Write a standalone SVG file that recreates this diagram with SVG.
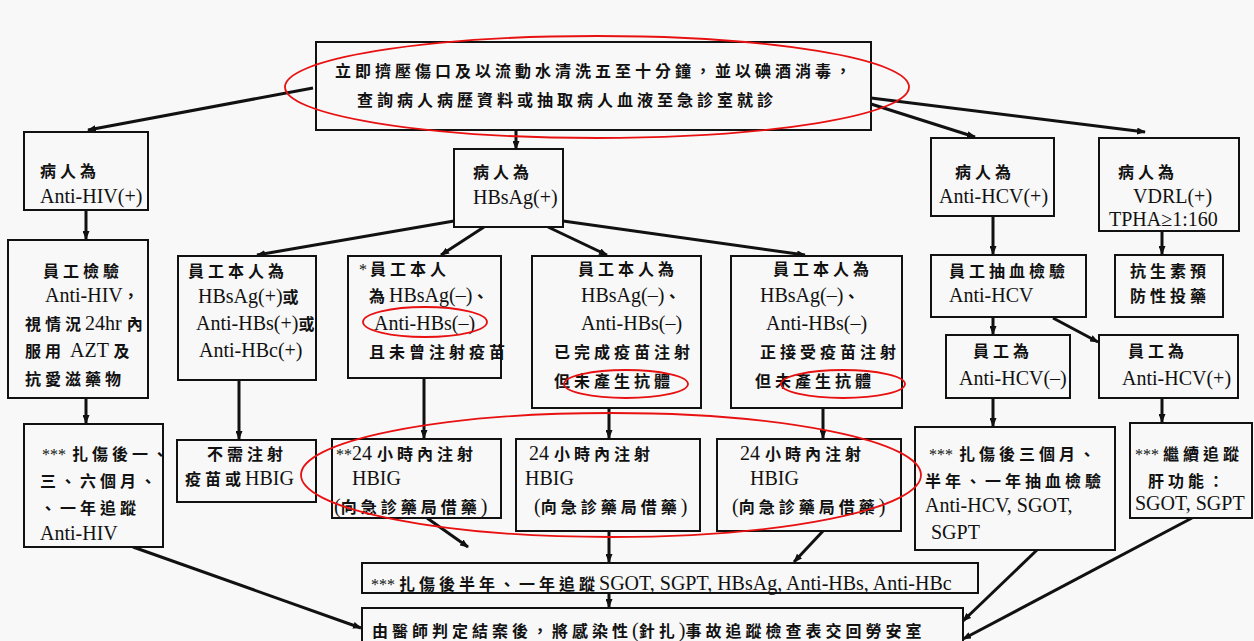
<svg xmlns="http://www.w3.org/2000/svg" width="1254" height="641" viewBox="0 0 1254 641">
<style>
.bx{fill:#f8f8f8;stroke:#111;stroke-width:2}
.t{font-family:"Liberation Serif","Noto Sans CJK TC",serif;font-size:20px;fill:#111}
.c{font-family:"Noto Sans CJK TC","Noto Sans CJK SC",sans-serif;font-size:16px;letter-spacing:4px;font-weight:bold}
.s{font-size:16px}
.cn line{stroke:#111;stroke-width:3;marker-end:url(#ah)}
.red{fill:none;stroke:#e81010;stroke-width:1.8}
</style>
<defs>
<marker id="ah" markerUnits="userSpaceOnUse" markerWidth="9" markerHeight="7" refX="8" refY="3.5" orient="auto">
<path d="M0,0 L9,3.5 L0,7 z" fill="#111"/>
</marker>
</defs>
<rect width="1254" height="641" fill="#f8f8f8"/>

<g id="connectors" class="cn">
<line x1="313" y1="88" x2="88" y2="130"/>
<line x1="516" y1="131" x2="516" y2="149"/>
<line x1="871" y1="104" x2="975" y2="137"/>
<line x1="871" y1="98" x2="1145" y2="132"/>
<line x1="86" y1="210" x2="86" y2="239"/>
<line x1="86" y1="398" x2="86" y2="423"/>
<line x1="454" y1="221" x2="257" y2="255"/>
<line x1="484" y1="227" x2="441" y2="255"/>
<line x1="548" y1="227" x2="607" y2="255"/>
<line x1="563" y1="221" x2="805" y2="255"/>
<line x1="239" y1="380" x2="239" y2="439"/>
<line x1="424" y1="378" x2="424" y2="438"/>
<line x1="609" y1="408" x2="609" y2="438"/>
<line x1="823" y1="408" x2="823" y2="438"/>
<line x1="427" y1="518" x2="468" y2="547"/>
<line x1="609" y1="531" x2="609" y2="562"/>
<line x1="823" y1="531" x2="794" y2="562"/>
<line x1="609" y1="593" x2="609" y2="607"/>
<line x1="133" y1="547" x2="361" y2="628"/>
<line x1="993" y1="216" x2="993" y2="254"/>
<line x1="1162" y1="231" x2="1162" y2="254"/>
<line x1="993" y1="317" x2="993" y2="334"/>
<line x1="1053" y1="318" x2="1098" y2="342"/>
<line x1="993" y1="398" x2="993" y2="426"/>
<line x1="1162" y1="398" x2="1162" y2="422"/>
<line x1="1037" y1="550" x2="963" y2="621"/>
<line x1="1192" y1="518" x2="963" y2="639"/>
</g>

<g id="n-top">
<rect class="bx" x="316" y="42" width="555" height="88"/>
<text class="t" x="335" y="77"><tspan class="c">立即擠壓傷口及以流動水清洗五至十分鐘，並以碘酒消毒，</tspan></text>
<text class="t" x="357" y="106"><tspan class="c">查詢病人病歷資料或抽取病人血液至急診室就診</tspan></text>
</g>

<g id="n-hiv">
<rect class="bx" x="24" y="132" width="124" height="78"/>
<text class="t" x="40" y="177"><tspan class="c">病人為</tspan></text>
<text class="t" x="40" y="203">Anti-HIV(+)</text>
</g>

<g id="n-hivtest">
<rect class="bx" x="8" y="240" width="140" height="158"/>
<text class="t" x="43" y="277"><tspan class="c">員工檢驗</tspan></text>
<text class="t" x="45" y="302">Anti-HIV<tspan class="c">，</tspan></text>
<text class="t" x="25" y="330"><tspan class="c">視情況</tspan>24hr <tspan class="c">內</tspan></text>
<text class="t" x="25" y="357"><tspan class="c">服用</tspan> AZT <tspan class="c">及</tspan></text>
<text class="t" x="25" y="385"><tspan class="c">抗愛滋藥物</tspan></text>
</g>

<g id="n-hivfollow">
<rect class="bx" x="24" y="424" width="139" height="123"/>
<text class="t" x="42" y="460"><tspan class="s">***</tspan><tspan class="c" dx="6">扎傷後一、</tspan></text>
<text class="t" x="40" y="487"><tspan class="c">三、六個月、</tspan></text>
<text class="t" x="40" y="514"><tspan class="c">、一年追蹤</tspan></text>
<text class="t" x="40" y="540">Anti-HIV</text>
</g>

<g id="n-hbsag">
<rect class="bx" x="454" y="149" width="109" height="78"/>
<text class="t" x="473" y="178"><tspan class="c">病人為</tspan></text>
<text class="t" x="473" y="204">HBsAg(+)</text>
</g>

<g id="n-a">
<rect class="bx" x="178" y="256" width="138" height="124"/>
<text class="t" x="188" y="277"><tspan class="c">員工本人為</tspan></text>
<text class="t" x="198" y="303">HBsAg(+)<tspan class="c">或</tspan></text>
<text class="t" x="196" y="330">Anti-HBs(+)<tspan class="c">或</tspan></text>
<text class="t" x="199" y="357">Anti-HBc(+)</text>
</g>

<g id="n-b">
<rect class="bx" x="348" y="256" width="153" height="122"/>
<text class="t" x="359" y="275"><tspan class="s">*</tspan><tspan class="c" dx="3">員工本人</tspan></text>
<text class="t" x="369" y="302"><tspan class="c">為</tspan>HBsAg(–)<tspan class="c">、</tspan></text>
<text class="t" x="374" y="330">Anti-HBs(–)</text>
<text class="t" x="369" y="358"><tspan class="c">且未曾注射疫苗</tspan></text>
</g>

<g id="n-c">
<rect class="bx" x="532" y="256" width="169" height="152"/>
<text class="t" x="578" y="275"><tspan class="c">員工本人為</tspan></text>
<text class="t" x="581" y="302">HBsAg(–)<tspan class="c">、</tspan></text>
<text class="t" x="581" y="330">Anti-HBs(–)</text>
<text class="t" x="554" y="358"><tspan class="c">已完成疫苗注射</tspan></text>
<text class="t" x="554" y="387"><tspan class="c">但未產生抗體</tspan></text>
</g>

<g id="n-d">
<rect class="bx" x="731" y="256" width="171" height="152"/>
<text class="t" x="773" y="275"><tspan class="c">員工本人為</tspan></text>
<text class="t" x="760" y="302">HBsAg(–)<tspan class="c">、</tspan></text>
<text class="t" x="766" y="330">Anti-HBs(–)</text>
<text class="t" x="760" y="358"><tspan class="c">正接受疫苗注射</tspan></text>
<text class="t" x="755" y="387"><tspan class="c">但未產生抗體</tspan></text>
</g>

<g id="n-noneed">
<rect class="bx" x="177" y="440" width="139" height="62"/>
<text class="t" x="207" y="460"><tspan class="c">不需注射</tspan></text>
<text class="t" x="185" y="485"><tspan class="c">疫苗或</tspan>HBIG</text>
</g>

<g id="n-hbig1">
<rect class="bx" x="332" y="439" width="169" height="79"/>
<text class="t" x="336" y="460"><tspan class="s">**</tspan>24 <tspan class="c">小時內注射</tspan></text>
<text class="t" x="352" y="485">HBIG</text>
<text class="t" x="334" y="513">(<tspan class="c">向急診藥局借藥</tspan>)</text>
</g>

<g id="n-hbig2">
<rect class="bx" x="516" y="439" width="184" height="92"/>
<text class="t" x="529" y="460">24 <tspan class="c">小時內注射</tspan></text>
<text class="t" x="525" y="485">HBIG</text>
<text class="t" x="534" y="513">(<tspan class="c">向急診藥局借藥</tspan>)</text>
</g>

<g id="n-hbig3">
<rect class="bx" x="717" y="439" width="184" height="92"/>
<text class="t" x="740" y="460">24 <tspan class="c">小時內注射</tspan></text>
<text class="t" x="750" y="485">HBIG</text>
<text class="t" x="732" y="513">(<tspan class="c">向急診藥局借藥</tspan>)</text>
</g>

<g id="n-hcv">
<rect class="bx" x="931" y="138" width="123" height="78"/>
<text class="t" x="955" y="178"><tspan class="c">病人為</tspan></text>
<text class="t" x="939" y="203">Anti-HCV(+)</text>
</g>

<g id="n-vdrl">
<rect class="bx" x="1099" y="138" width="140" height="93"/>
<text class="t" x="1118" y="178"><tspan class="c">病人為</tspan></text>
<text class="t" x="1133" y="203">VDRL(+)</text>
<text class="t" x="1109" y="226">TPHA≥1:160</text>
</g>

<g id="n-hcvtest">
<rect class="bx" x="931" y="255" width="155" height="62"/>
<text class="t" x="949" y="277"><tspan class="c">員工抽血檢驗</tspan></text>
<text class="t" x="949" y="302">Anti-HCV</text>
</g>

<g id="n-antibiotic">
<rect class="bx" x="1115" y="255" width="108" height="62"/>
<text class="t" x="1130" y="277"><tspan class="c">抗生素預</tspan></text>
<text class="t" x="1130" y="302"><tspan class="c">防性投藥</tspan></text>
</g>

<g id="n-hcvneg">
<rect class="bx" x="946" y="335" width="124" height="63"/>
<text class="t" x="973" y="357"><tspan class="c">員工為</tspan></text>
<text class="t" x="959" y="385">Anti-HCV(–)</text>
</g>

<g id="n-hcvpos">
<rect class="bx" x="1099" y="335" width="139" height="63"/>
<text class="t" x="1128" y="357"><tspan class="c">員工為</tspan></text>
<text class="t" x="1122" y="385">Anti-HCV(+)</text>
</g>

<g id="n-hcvfollow">
<rect class="bx" x="915" y="427" width="200" height="123"/>
<text class="t" x="929" y="460"><tspan class="s">***</tspan><tspan class="c" dx="6">扎傷後三個月、</tspan></text>
<text class="t" x="925" y="487"><tspan class="c">半年、一年抽血檢驗</tspan></text>
<text class="t" x="925" y="512">Anti-HCV, SGOT,</text>
<text class="t" x="931" y="539">SGPT</text>
</g>

<g id="n-liver">
<rect class="bx" x="1130" y="423" width="122" height="95"/>
<text class="t" x="1135" y="460"><tspan class="s">***</tspan><tspan class="c" dx="4">繼續追蹤</tspan></text>
<text class="t" x="1148" y="487"><tspan class="c">肝功能：</tspan></text>
<text class="t" x="1135" y="510">SGOT, SGPT</text>
</g>

<g id="n-hbvfollow">
<rect class="bx" x="362" y="563" width="616" height="30"/>
<text class="t" x="371" y="590"><tspan class="s">***</tspan><tspan class="c" dx="4">扎傷後半年、一年追蹤</tspan>SGOT, SGPT, HBsAg, Anti-HBs, Anti-HBc</text>
</g>

<g id="n-final">
<rect class="bx" x="362" y="608" width="601" height="40"/>
<text class="t" x="372" y="637"><tspan class="c">由醫師判定結案後，將感染性</tspan>(<tspan class="c">針扎</tspan>)<tspan class="c">事故追蹤檢查表交回勞安室</tspan></text>
</g>

<g id="highlights">
<ellipse class="red" cx="597" cy="87" rx="312" ry="51"/>
<ellipse class="red" cx="425" cy="322" rx="62" ry="15"/>
<ellipse class="red" cx="626" cy="384" rx="62" ry="14"/>
<ellipse class="red" cx="843" cy="384" rx="62" ry="14"/>
<ellipse class="red" cx="611" cy="475" rx="310" ry="62"/>
</g>
</svg>
